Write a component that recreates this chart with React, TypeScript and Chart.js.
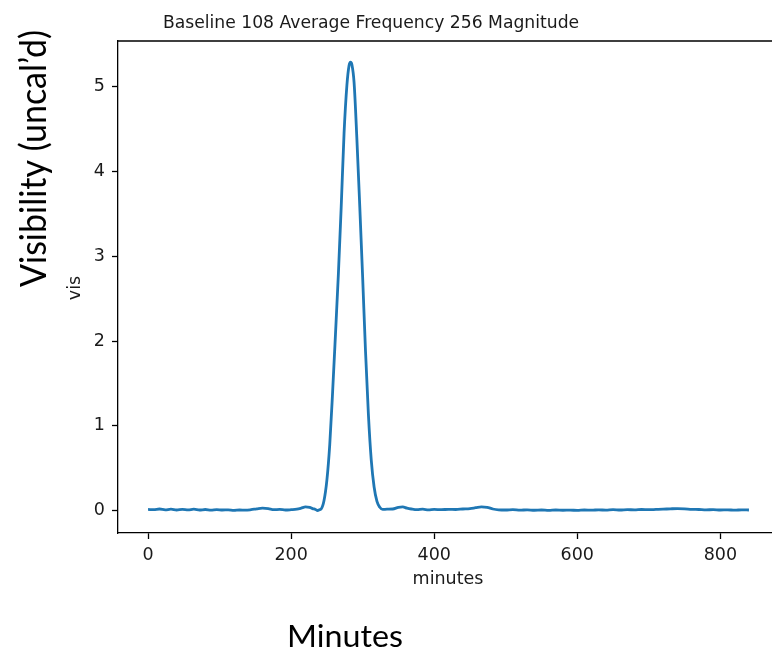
import React, { useEffect, useRef } from "react";
import { Chart, registerables } from "chart.js";

Chart.register(...registerables);

const chartTitle = "Baseline 108 Average Frequency 256 Magnitude";
const xAxisLabel = "minutes";
const yAxisLabel = "vis";
const bigYLabel = "Visibility (uncal\u2019d)";
const bigXLabel = "Minutes";

const xTicks = [0, 200, 400, 600, 800];
const yTicks = [0, 1, 2, 3, 4, 5];

const minutes = [
  0, 8, 16, 24, 32, 40, 48, 56, 64, 72, 80, 88, 96, 104, 112, 120, 128, 136, 144, 152,
  160, 168, 176, 184, 192, 200, 208, 214, 220, 226, 230, 234, 237, 240, 242, 246, 250,
  254, 258, 262, 266, 270, 274, 278, 281, 283, 285, 288, 292, 296, 300, 304, 308, 312,
  316, 320, 324, 328, 334, 342, 350, 356, 362, 368, 376, 384, 392, 400, 410, 420, 430,
  440, 450, 458, 466, 474, 482, 490, 500, 510, 520, 530, 540, 550, 560, 570, 580, 590,
  600, 610, 620, 630, 640, 650, 660, 670, 680, 690, 700, 710, 720, 730, 740, 750, 760,
  770, 780, 790, 800, 810, 820, 830, 840,
];

const vis = [
  0.015, 0.012, 0.02, 0.01, 0.018, 0.008, 0.016, 0.01, 0.018, 0.008, 0.014, 0.006, 0.012,
  0.008, 0.01, 0.004, 0.008, 0.006, 0.012, 0.022, 0.03, 0.025, 0.012, 0.015, 0.008, 0.012,
  0.018, 0.03, 0.045, 0.04, 0.025, 0.015, 0.002, 0.012, 0.02, 0.12, 0.36, 0.78, 1.4, 2.08,
  2.78, 3.58, 4.45, 5.02, 5.25, 5.29, 5.26, 5.05, 4.37, 3.58, 2.75, 1.88, 1.14, 0.6, 0.28,
  0.11, 0.04, 0.015, 0.018, 0.02, 0.04, 0.045, 0.03, 0.02, 0.012, 0.018, 0.01, 0.015,
  0.012, 0.016, 0.014, 0.02, 0.025, 0.035, 0.045, 0.04, 0.02, 0.01, 0.008, 0.012, 0.006,
  0.01, 0.005, 0.008, 0.004, 0.008, 0.005, 0.007, 0.004, 0.008, 0.006, 0.01, 0.007, 0.012,
  0.008, 0.012, 0.01, 0.014, 0.012, 0.015, 0.018, 0.022, 0.025, 0.022, 0.016, 0.014, 0.01,
  0.012, 0.008, 0.01, 0.006, 0.01, 0.008,
];

const TEXT = "#1a1a1a";
const MPL = "DejaVu Sans";

function drawFitted(
  ctx: CanvasRenderingContext2D,
  text: string,
  font: string,
  width: number,
  x: number,
  y: number,
  rotate: number
) {
  ctx.save();
  ctx.font = font;
  const w = ctx.measureText(text).width;
  ctx.translate(x, y);
  ctx.rotate(rotate);
  ctx.scale(width / w, 1);
  ctx.textAlign = "center";
  ctx.textBaseline = "alphabetic";
  ctx.fillStyle = "#000";
  ctx.fillText(text, 0, 0);
  ctx.restore();
}

const decorPlugin = {
  id: "decor",
  afterDraw(chart: any) {
    const ctx: CanvasRenderingContext2D = chart.ctx;
    const a = chart.chartArea;
    ctx.save();
    ctx.strokeStyle = "#000";
    ctx.lineWidth = 1.3;
    ctx.beginPath();
    ctx.moveTo(a.left, a.top);
    ctx.lineTo(a.right, a.top);
    ctx.lineTo(a.right, a.bottom);
    ctx.stroke();

    ctx.fillStyle = TEXT;
    ctx.font = `17.2px "${MPL}"`;
    ctx.textAlign = "center";
    ctx.textBaseline = "alphabetic";
    ctx.fillText(chartTitle, 371, 28);

    ctx.font = `17.5px "${MPL}"`;
    ctx.fillText(xAxisLabel, 448, 584);

    ctx.save();
    ctx.translate(80, 288);
    ctx.rotate(-Math.PI / 2);
    ctx.fillText(yAxisLabel, 0, 0);
    ctx.restore();

    drawFitted(ctx, bigXLabel, `31px Lato`, 116, 345, 647, 0);
    drawFitted(ctx, bigYLabel, `37px Lato`, 257, 46, 158.5, -Math.PI / 2);
    ctx.restore();
  },
};

export default function App() {
  const ref = useRef<HTMLCanvasElement>(null);
  useEffect(() => {
    if (!ref.current) return;
    const chart = new Chart(ref.current, {
      type: "line",
      data: {
        datasets: [
          {
            data: minutes.map((m, i) => ({ x: m, y: vis[i] })),
            borderColor: "#1f77b4",
            borderWidth: 2.8,
            pointRadius: 0,
            fill: false,
            cubicInterpolationMode: "monotone",
          },
        ],
      },
      options: {
        responsive: false,
        animation: false,
        devicePixelRatio: 1,
        layout: { padding: { top: 41, right: 11, left: 0, bottom: 0 } },
        plugins: {
          legend: { display: false },
          title: { display: false },
          tooltip: { enabled: false },
        },
        scales: {
          x: {
            type: "linear",
            min: -42,
            max: 882,
            afterFit: (s: any) => {
              s.height = 120;
            },
            afterBuildTicks: (s: any) => {
              s.ticks = xTicks.map((v) => ({ value: v }));
            },
            grid: {
              drawOnChartArea: false,
              drawTicks: true,
              tickLength: 6,
              tickWidth: 1.3,
              color: "#000",
            },
            border: { display: true, color: "#000", width: 1.3 },
            ticks: {
              color: TEXT,
              font: { family: MPL, size: 17.5 },
              padding: 6,
              maxRotation: 0,
              autoSkip: false,
            },
          },
          y: {
            type: "linear",
            min: -0.263,
            max: 5.539,
            afterFit: (s: any) => {
              s.width = 118;
            },
            afterBuildTicks: (s: any) => {
              s.ticks = yTicks.map((v) => ({ value: v }));
            },
            grid: {
              drawOnChartArea: false,
              drawTicks: true,
              tickLength: 6,
              tickWidth: 1.3,
              color: "#000",
            },
            border: { display: true, color: "#000", width: 1.3 },
            ticks: {
              color: TEXT,
              font: { family: MPL, size: 17.5 },
              padding: 7,
              autoSkip: false,
            },
          },
        },
      },
      plugins: [decorPlugin],
    } as any);
    return () => chart.destroy();
  }, []);
  return (
    <div
      style={{
        position: "fixed",
        left: 0,
        top: 0,
        width: 772,
        height: 653,
        overflow: "hidden",
        background: "#fff",
      }}
    >
      <canvas ref={ref} width={790} height={653} style={{ display: "block", width: 790, height: 653 }} />
    </div>
  );
}
